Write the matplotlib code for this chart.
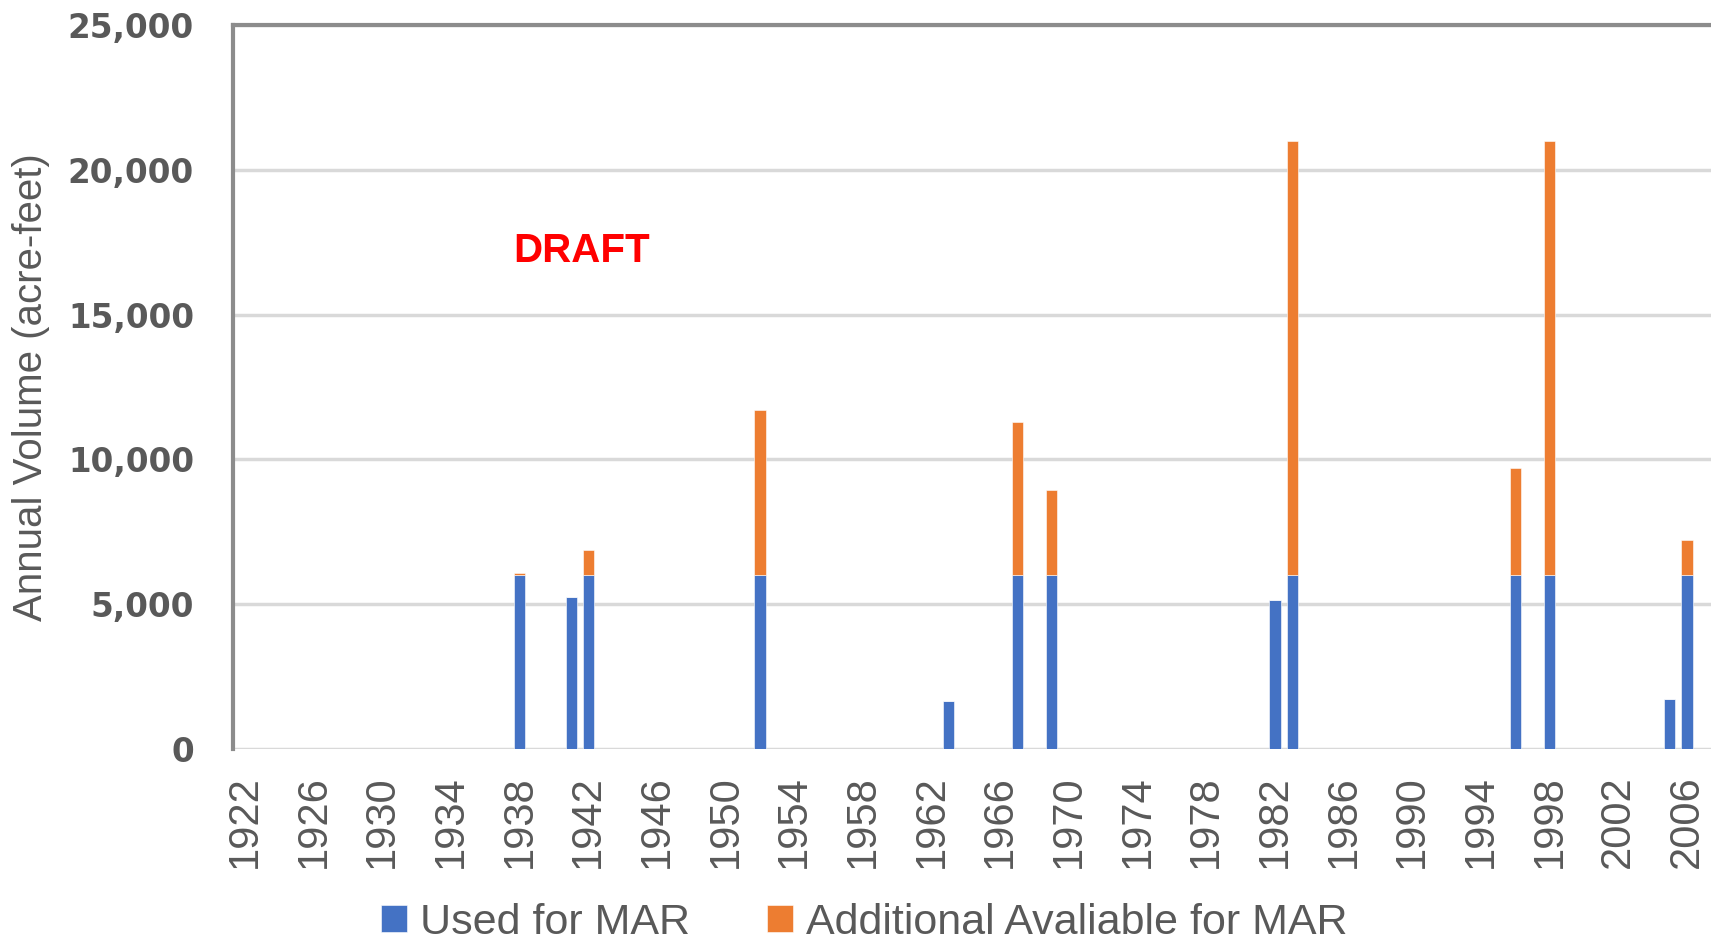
"""
Annual volume used / additionally available for MAR, stacked by year.
"""
import numpy as np
import matplotlib
matplotlib.use("Agg")
from matplotlib import pyplot as plt
from matplotlib.ticker import FuncFormatter

# Water years shown on the category axis
years = np.arange(1922, 2008)

# Years with non-zero volumes (acre-feet)
event_years = [1938, 1941, 1942, 1952, 1963, 1967, 1969, 1982, 1983, 1996, 1998, 2005, 2006]
used_for_mar = [6000, 5250, 6000, 6000, 1670, 6000, 6000, 5130, 6000, 6000, 6000, 1730, 6000]
additional_available = [80, 0, 885, 5710, 0, 5285, 2950, 0, 15000, 3720, 15000, 0, 1220]

series_labels = ["Used for MAR", "Additional Avaliable for MAR"]
tick_years = np.arange(1922, 2007, 4)

BLUE = "#4472C4"
ORANGE = "#ED7D31"
GREY_TEXT = "#595959"

# Fill the full year range, zeros where nothing happened
used = np.zeros(len(years))
extra = np.zeros(len(years))
for yr, u, a in zip(event_years, used_for_mar, additional_available):
    used[yr - years[0]] = u
    extra[yr - years[0]] = a

fig = plt.figure(figsize=(17.11, 9.5), dpi=100)
ax = fig.add_axes([233 / 1711, 1 - 749 / 950, 1 - 233 / 1711, (749 - 25) / 950])

ax.bar(years, used, width=0.65, color=BLUE, label=series_labels[0], zorder=3,
       edgecolor="white", linewidth=0.4)
ax.bar(years, extra, bottom=used, width=0.65, color=ORANGE, label=series_labels[1],
       zorder=3, edgecolor="white", linewidth=0.4)

# Axes styling
ax.set_ylim(0, 25000)
ax.set_xlim(1921.3, 2007.4)
ax.set_yticks(np.arange(0, 25001, 5000))
ax.yaxis.set_major_formatter(FuncFormatter(lambda v, p: f"{int(v):,}"))
ax.grid(axis="y", color="#D9D9D9", linewidth=2.5, zorder=0)
ax.set_axisbelow(True)

for side in ["right", "bottom"]:
    ax.spines[side].set_visible(False)
for side in ["left", "top"]:
    ax.spines[side].set_color("#8C8C8C")
    ax.spines[side].set_linewidth(3)

ax.set_xticks(tick_years)
ax.set_xticklabels([str(y) for y in tick_years], rotation=90, fontsize=30,
                   family="Liberation Sans", color=GREY_TEXT)
ax.tick_params(axis="x", length=0, pad=19)
ax.tick_params(axis="y", length=0, pad=28)
for lbl in ax.get_yticklabels():
    lbl.set_family("DejaVu Sans")
    lbl.set_fontweight("bold")
    lbl.set_fontsize(23.5)
    lbl.set_color(GREY_TEXT)

ax.set_ylabel("Annual Volume (acre-feet)", fontsize=29, family="Liberation Sans",
              color=GREY_TEXT)
ax.yaxis.set_label_coords((50 - 233) / 1478, 0.5)

fig.text(582 / 1711, 1 - 251 / 950, "DRAFT", color="red", fontsize=29,
         fontweight="bold", family="Liberation Sans", ha="center", va="center")

fig.legend(loc="center", bbox_to_anchor=(864 / 1711, 1 - 923 / 950), ncol=2,
           frameon=False, prop={"family": "Liberation Sans", "size": 31},
           labelcolor=GREY_TEXT, handlelength=0.6, handleheight=0.6,
           handletextpad=0.3, columnspacing=1.8, borderpad=0, borderaxespad=0)

fig.savefig("out.png", dpi=100)
